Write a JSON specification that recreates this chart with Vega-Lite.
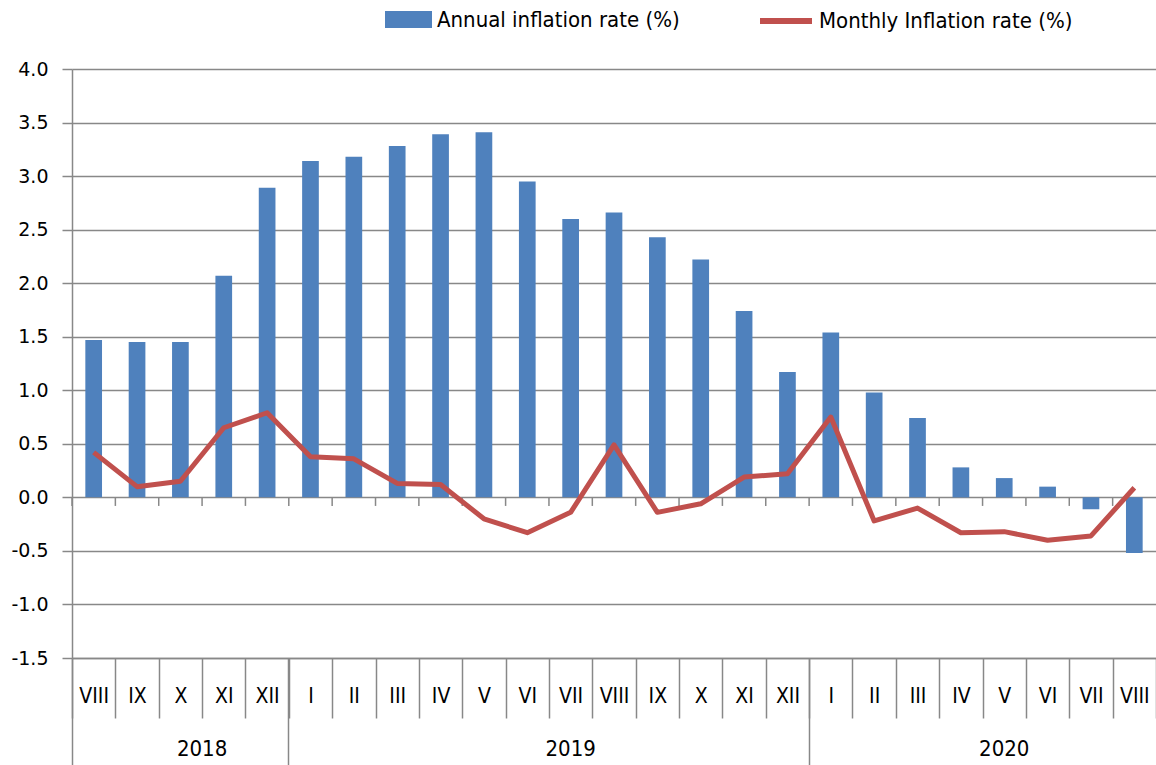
{
  "$schema": "https://vega.github.io/schema/vega-lite/v6.json",
  "autosize": {"type": "none"},
  "padding": {"left": 72, "top": 69, "right": 0, "bottom": 107},
  "width": 1084,
  "height": 589,
  "background": "white",
  "config": {
    "view": {"stroke": null},
    "axis": {"labelColor": "black", "titleColor": "black"}
  },
  "data": {
    "values": [
      {"k": "2018-VIII", "annual": 1.47, "monthly": 0.42},
      {"k": "2018-IX", "annual": 1.45, "monthly": 0.10},
      {"k": "2018-X", "annual": 1.45, "monthly": 0.15},
      {"k": "2018-XI", "annual": 2.07, "monthly": 0.65},
      {"k": "2018-XII", "annual": 2.89, "monthly": 0.79},
      {"k": "2019-I", "annual": 3.14, "monthly": 0.38},
      {"k": "2019-II", "annual": 3.18, "monthly": 0.36},
      {"k": "2019-III", "annual": 3.28, "monthly": 0.13},
      {"k": "2019-IV", "annual": 3.39, "monthly": 0.12},
      {"k": "2019-V", "annual": 3.41, "monthly": -0.20},
      {"k": "2019-VI", "annual": 2.95, "monthly": -0.33},
      {"k": "2019-VII", "annual": 2.60, "monthly": -0.14},
      {"k": "2019-VIII", "annual": 2.66, "monthly": 0.49},
      {"k": "2019-IX", "annual": 2.43, "monthly": -0.14},
      {"k": "2019-X", "annual": 2.22, "monthly": -0.06},
      {"k": "2019-XI", "annual": 1.74, "monthly": 0.19},
      {"k": "2019-XII", "annual": 1.17, "monthly": 0.22},
      {"k": "2020-I", "annual": 1.54, "monthly": 0.75},
      {"k": "2020-II", "annual": 0.98, "monthly": -0.22},
      {"k": "2020-III", "annual": 0.74, "monthly": -0.10},
      {"k": "2020-IV", "annual": 0.28, "monthly": -0.33},
      {"k": "2020-V", "annual": 0.18, "monthly": -0.32},
      {"k": "2020-VI", "annual": 0.10, "monthly": -0.40},
      {"k": "2020-VII", "annual": -0.11, "monthly": -0.36},
      {"k": "2020-VIII", "annual": -0.52, "monthly": 0.09}
    ]
  },
  "resolve": {"axis": {"x": "independent", "y": "independent"}},
  "layer": [
    {
      "mark": {"type": "bar", "width": {"band": 0.385}},
      "encoding": {
        "x": {
          "field": "k", "type": "nominal", "sort": null,
          "scale": {"paddingInner": 0, "paddingOuter": 0},
          "axis": {
            "orient": "bottom", "title": null, "labelAngle": 0,
            "labelExpr": "split(datum.label, '-')[1]",
            "tickBand": "extent", "tickSize": 60, "tickColor": "#888888", "tickWidth": 1.5,
            "domainColor": "#888888", "domainWidth": 1.5,
            "labelFont": "Liberation Sans Narrow, DejaVu Sans Condensed, Liberation Sans, sans-serif",
            "labelFontSize": 21, "labelPadding": -33, "grid": false
          }
        },
        "y": {
          "field": "annual", "type": "quantitative",
          "scale": {"domain": [-1.5, 4], "nice": false, "zero": false},
          "axis": {
            "title": null, "values": [-1.5, -1, -0.5, 0, 0.5, 1, 1.5, 2, 2.5, 3, 3.5, 4],
            "format": ".1f", "labelExpr": "replace(datum.label, '\u2212', '-')",
            "labelFont": "DejaVu Sans", "labelFontSize": 19,
            "tickSize": 10, "tickColor": "#888888", "tickWidth": 1.5,
            "domainColor": "#888888", "domainWidth": 1.5,
            "grid": true, "gridColor": "#888888", "gridWidth": 1.5,
            "labelPadding": 14
          }
        },
        "fill": {
          "datum": "Annual inflation rate (%)",
          "scale": {"range": ["#4F81BD"]},
          "legend": {
            "title": null, "orient": "none", "legendX": 313, "legendY": -73, "padding": 0,
            "symbolType": "M-1,-0.36H1V0.36H-1Z", "symbolSize": 2209,
            "symbolStrokeWidth": 0, "symbolOpacity": 1, "labelLimit": 0,
            "labelFont": "Liberation Sans Narrow, DejaVu Sans Condensed, Liberation Sans, sans-serif",
            "labelFontSize": 22, "labelColor": "black", "labelOffset": 5
          }
        }
      }
    },
    {
      "mark": {"type": "rule", "color": "#888888", "strokeWidth": 1.5},
      "encoding": {
        "x": {
          "field": "k", "type": "nominal", "sort": null, "bandPosition": 0,
          "axis": {
            "orient": "bottom", "title": null, "labels": false, "domain": false,
            "values": ["2018-VIII", "2019-I", "2020-I"], "bandPosition": 0,
            "tickSize": 107, "tickColor": "#888888", "tickWidth": 1.5, "grid": false
          }
        },
        "y": {"datum": 0, "type": "quantitative", "axis": null},
        "y2": {"datum": -0.08}
      }
    },
    {
      "mark": {"type": "line", "color": "#C0504D", "strokeWidth": 5, "strokeJoin": "round"},
      "encoding": {
        "x": {
          "field": "k", "type": "nominal", "sort": null,
          "axis": {
            "orient": "bottom", "title": null, "labelAngle": 0, "domain": false, "ticks": false,
            "values": ["2018-X", "2019-VII", "2020-V"], "bandPosition": 0,
            "labelExpr": "split(datum.label, '-')[0]",
            "labelOffset": {"condition": {"test": "datum.value == '2018-X'", "value": 21.7}, "value": 0},
            "labelFont": "Liberation Sans Narrow, DejaVu Sans Condensed, Liberation Sans, sans-serif",
            "labelFontSize": 22, "labelPadding": 80, "grid": false
          }
        },
        "y": {"field": "monthly", "type": "quantitative", "axis": null},
        "stroke": {
          "datum": "Monthly Inflation rate (%)",
          "scale": {"range": ["#C0504D"]},
          "legend": {
            "title": null, "orient": "none", "legendX": 685, "legendY": -77, "padding": 0,
            "symbolType": "stroke", "symbolSize": 2704, "symbolStrokeWidth": 6, "labelLimit": 0,
            "labelFont": "Liberation Sans Narrow, DejaVu Sans Condensed, Liberation Sans, sans-serif",
            "labelFontSize": 22, "labelColor": "black", "labelOffset": 4
          }
        }
      }
    }
  ]
}
